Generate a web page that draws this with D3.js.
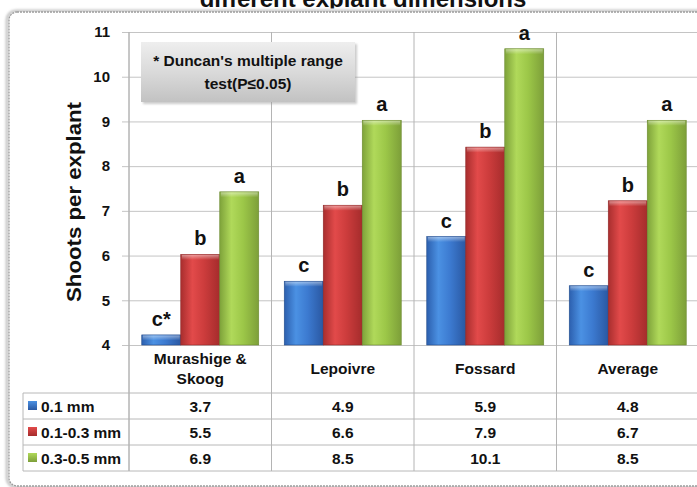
<!DOCTYPE html>
<html>
<head>
<meta charset="utf-8">
<script src="https://cdn.jsdelivr.net/npm/d3@7"></script>
<style>
  html, body { margin: 0; padding: 0; background: #ffffff; }
  svg { display: block; }
  text { font-family: "Liberation Sans", Arial, sans-serif; font-weight: bold; fill: #111; }
</style>
</head>
<body>
<script>
// Shoot regeneration per explant on three media, by explant size
const categories = ["Murashige & Skoog", "Lepoivre", "Fossard", "Average"];
const categoryLines = [["Murashige &", "Skoog"], ["Lepoivre"], ["Fossard"], ["Average"]];
const seriesNames = ["0.1 mm", "0.1-0.3 mm", "0.3-0.5 mm"];
const valuesSmall = [3.7, 4.9, 5.9, 4.8];
const valuesMedium = [5.5, 6.6, 7.9, 6.7];
const valuesLarge = [6.9, 8.5, 10.1, 8.5];
const lettersSmall = ["c*", "c", "c", "c"];
const lettersMedium = ["b", "b", "b", "b"];
const lettersLarge = ["a", "a", "a", "a"];
const yTicks = [4, 5, 6, 7, 8, 9, 10, 11];
const titleText = "different explant dimensions";
const yTitle = "Shoots per explant";
const noteLines = ["* Duncan's multiple range", "test(P\u22640.05)"];

const series = [
  { name: seriesNames[0], values: valuesSmall, letters: lettersSmall, id: "blue",
    stops: ["#2c5fae", "#4b91e3", "#3c7ad0", "#2a58a2"] },
  { name: seriesNames[1], values: valuesMedium, letters: lettersMedium, id: "red",
    stops: ["#a82e2e", "#e24a4a", "#cc3c3c", "#a52c2c"] },
  { name: seriesNames[2], values: valuesLarge, letters: lettersLarge, id: "green",
    stops: ["#7ea23a", "#b0d95a", "#9cc748", "#7d9f39"] }
];

const W = 697, H = 487;
const svg = d3.select("body").append("svg").attr("width", W).attr("height", H);
const defs = svg.append("defs");

// gradients for the bar faces and legend keys
series.forEach(s => {
  const g = defs.append("linearGradient").attr("id", "grad-" + s.id)
    .attr("x1", "0%").attr("x2", "100%").attr("y1", "0%").attr("y2", "0%");
  [[0, s.stops[0]], [0.3, s.stops[1]], [0.6, s.stops[2]], [1, s.stops[3]]].forEach(([o, c]) =>
    g.append("stop").attr("offset", o).attr("stop-color", c));
  const k = defs.append("linearGradient").attr("id", "key-" + s.id)
    .attr("x1", "0%").attr("x2", "0%").attr("y1", "0%").attr("y2", "100%");
  k.append("stop").attr("offset", 0).attr("stop-color", s.stops[1]);
  k.append("stop").attr("offset", 1).attr("stop-color", s.stops[3]);
});
const hl = defs.append("linearGradient").attr("id", "bevel")
  .attr("x1", "0%").attr("x2", "0%").attr("y1", "0%").attr("y2", "100%");
hl.append("stop").attr("offset", 0).attr("stop-color", "#ffffff").attr("stop-opacity", 0.45);
hl.append("stop").attr("offset", 1).attr("stop-color", "#ffffff").attr("stop-opacity", 0);

const boxGrad = defs.append("linearGradient").attr("id", "noteGrad")
  .attr("x1", "0%").attr("x2", "0%").attr("y1", "0%").attr("y2", "100%");
boxGrad.append("stop").attr("offset", 0).attr("stop-color", "#eeeeee");
boxGrad.append("stop").attr("offset", 0.5).attr("stop-color", "#dadada");
boxGrad.append("stop").attr("offset", 1).attr("stop-color", "#c2c2c2");

defs.append("clipPath").attr("id", "titleClip")
  .append("rect").attr("x", 0).attr("y", 0).attr("width", W).attr("height", 8.5);
defs.append("filter").attr("id", "soft").append("feGaussianBlur").attr("stdDeviation", 1.2);

// title (top edge of the page)
svg.append("text").attr("clip-path", "url(#titleClip)")
  .attr("x", 363).attr("y", 7).attr("text-anchor", "middle")
  .attr("font-size", 24).text(titleText);

// chart frame
svg.append("rect").attr("x", 7).attr("y", 11).attr("width", 740).attr("height", 476)
  .attr("rx", 9).attr("fill", "none").attr("stroke", "#c8c8c8").attr("stroke-width", 3)
  .attr("filter", "url(#soft)");
svg.append("rect").attr("x", 9).attr("y", 12).attr("width", 740).attr("height", 474)
  .attr("rx", 8).attr("fill", "#ffffff").attr("stroke", "#9c9c9c").attr("stroke-width", 1.3)
  .attr("stroke-dasharray", "2,1");

// scales
const x0 = d3.scaleBand().domain(categories).range([129, 699]).paddingInner(0).paddingOuter(0);
const x1 = d3.scaleBand().domain(seriesNames).range([0, x0.bandwidth()]).paddingInner(0).paddingOuter(0.327);
const y = d3.scaleLinear().domain([4, 11]).range([345, 32]);
const depth = 23.5; // perspective lift of the bar tops against the back wall

// horizontal gridlines with tick stubs and labels
const yAxis = d3.axisLeft(y).tickValues(yTicks).tickSize(-(W + 40 - 122)).tickPadding(12)
  .tickFormat(d3.format("d"));
const ga = svg.append("g").attr("transform", "translate(122,0)").call(yAxis);
ga.select(".domain").remove();
ga.selectAll(".tick line").attr("stroke", "#c4c4c4").attr("stroke-width", 1);
ga.selectAll(".tick text").attr("font-size", 15).attr("fill", "#111")
  .attr("font-family", "'Liberation Sans', Arial, sans-serif").attr("font-weight", "bold");

// table rows
const rowTop = 393, rowH = 26;
const tableBottom = rowTop + rowH * 3;
const lineColor = "#b8b8b8";
for (let i = 0; i <= 3; i++) {
  svg.append("line").attr("x1", 23).attr("x2", W + 10)
    .attr("y1", rowTop + i * rowH).attr("y2", rowTop + i * rowH)
    .attr("stroke", lineColor).attr("stroke-width", 1);
}
svg.append("line").attr("x1", 23).attr("x2", 23).attr("y1", rowTop).attr("y2", tableBottom)
  .attr("stroke", lineColor);

// category separators running through plot and table
const bounds = categories.map(c => x0(c)).concat([x0.range()[1]]);
svg.selectAll("line.sep").data(bounds).join("line").attr("class", "sep")
  .attr("x1", d => d).attr("x2", d => d).attr("y1", y(11)).attr("y2", tableBottom)
  .attr("stroke", "#b4b4b4").attr("stroke-width", 1);

// note box
const note = svg.append("g");
note.append("rect").attr("x", 143).attr("y", 44).attr("width", 214).attr("height", 60)
  .attr("fill", "#9a9a9a").attr("opacity", 0.5).attr("filter", "url(#soft)");
note.append("rect").attr("x", 141).attr("y", 42).attr("width", 214).attr("height", 60)
  .attr("fill", "url(#noteGrad)");
note.selectAll("text").data(noteLines).join("text")
  .attr("x", 248).attr("y", (d, i) => 66 + i * 23).attr("text-anchor", "middle")
  .attr("font-size", 15.5).text(d => d);

// bars
const barG = svg.append("g");
series.forEach(s => {
  const g = barG.append("g");
  categories.forEach((c, i) => {
    const v = s.values[i];
    const bx = x0(c) + x1(s.name);
    const bw = x1.bandwidth();
    const top = y(v) - depth;
    const bottom = y(4);
    g.append("rect").attr("x", bx).attr("y", top).attr("width", bw).attr("height", bottom - top)
      .attr("fill", "url(#grad-" + s.id + ")").attr("stroke", d3.color(s.stops[3]).darker(0.4))
      .attr("stroke-width", 0.6);
    g.append("rect").attr("x", bx + 1).attr("y", top + 0.5).attr("width", bw - 2)
      .attr("height", Math.min(5, bottom - top - 1)).attr("fill", "url(#bevel)");
    g.append("text").attr("x", bx + bw / 2).attr("y", top - 9).attr("text-anchor", "middle")
      .attr("font-size", 20).text(s.letters[i]);
  });
});

// left axis line
svg.append("line").attr("x1", 129).attr("x2", 129).attr("y1", y(11)).attr("y2", tableBottom)
  .attr("stroke", "#b4b4b4");

// y axis title
svg.append("text").attr("transform", "translate(81,202) rotate(-90)")
  .attr("text-anchor", "middle").attr("font-size", 20)
  .attr("textLength", 200).attr("lengthAdjust", "spacingAndGlyphs").text(yTitle);

// category header row
categories.forEach((c, i) => {
  const lines = categoryLines[i];
  const cx = x0(c) + x0.bandwidth() / 2;
  const startY = lines.length === 1 ? 374 : 364;
  lines.forEach((t, j) => {
    svg.append("text").attr("x", cx).attr("y", startY + j * 20).attr("text-anchor", "middle")
      .attr("font-size", 15.5).text(t);
  });
});

// data rows with legend keys
series.forEach((s, r) => {
  const cy = rowTop + r * rowH + rowH / 2;
  svg.append("rect").attr("x", 28).attr("y", cy - 5).attr("width", 9).attr("height", 9)
    .attr("fill", "url(#key-" + s.id + ")");
  svg.append("text").attr("x", 41).attr("y", cy + 6).attr("font-size", 15.5).text(s.name);
  categories.forEach((c, i) => {
    svg.append("text").attr("x", x0(c) + x0.bandwidth() / 2).attr("y", cy + 6)
      .attr("text-anchor", "middle").attr("font-size", 15.5).text(d3.format(".1f")(s.values[i]));
  });
});
</script>
</body>
</html>
